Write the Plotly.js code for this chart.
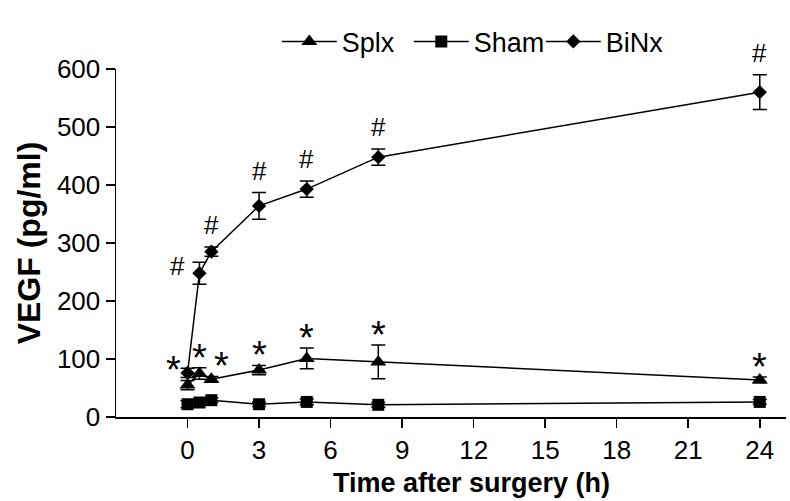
<!DOCTYPE html>
<html>
<head>
<meta charset="utf-8">
<script src="https://cdn.plot.ly/plotly-3.0.1.min.js"></script>
<style>html,body{margin:0;padding:0;background:#fff;}#chart{width:790px;height:501px;}</style>
</head>
<body>
<div id="chart"></div>
<script>
// ---- data ----
var timeH = [0, 0.5, 1, 3, 5, 8, 24];
var splxVEGF = [55, 75, 65, 81, 101, 95, 64];
var splxErr  = [8, 10, 5, 8, 18, 29, 5];
var splxSig  = ['*', '*', '*', '*', '*', '*', '*'];
var shamVEGF = [22, 25, 29, 22, 26, 21, 26];
var shamErr  = [6, 5, 4, 4, 5, 4, 4];
var binxVEGF = [76, 248, 285, 364, 393, 448, 560];
var binxErr  = [8, 19, 8, 23, 14, 14, 30];
var binxSig  = ['', '#', '#', '#', '#', '#', '#'];
var xTicks = [0, 3, 6, 9, 12, 15, 18, 21, 24];
var yTicks = [0, 100, 200, 300, 400, 500, 600];
var seriesNames = ['Splx', 'Sham', 'BiNx'];
var xTitle = 'Time after surgery (h)';
var yTitle = 'VEGF (pg/ml)';

var FONT = 'Liberation Sans, Arial, Helvetica, sans-serif';

function trace(name, y, err, symbol, size) {
  return {
    type: 'scatter', mode: 'lines+markers', name: name,
    x: timeH, y: y,
    line: {color: '#000', width: 1.5},
    marker: {symbol: symbol, size: size, color: '#000'},
    error_y: {type: 'data', array: err, visible: true, color: '#000', thickness: 1.5, width: 7},
    cliponaxis: false
  };
}

var data = [
  trace(seriesNames[0], splxVEGF, splxErr, 'triangle-up', 14),
  trace(seriesNames[1], shamVEGF, shamErr, 'square', 12),
  trace(seriesNames[2], binxVEGF, binxErr, 'diamond', 11)
];

// significance marks above the upper error bar
var annotations = [];
var splxShift = {0: -14, 2: 10};
var binxShift = {1: -22};
function addSig(sig, vals, errs, shifts, sizeUp, fsize) {
  for (var i = 0; i < sig.length; i++) {
    if (!sig[i]) continue;
    var xs = shifts[i] || 0;
    annotations.push({
      x: timeH[i], y: vals[i] + errs[i], xref: 'x', yref: 'y',
      text: sig[i], showarrow: false,
      xanchor: 'center', yanchor: 'middle',
      xshift: xs, yshift: xs < 0 && sig[i] === '#' ? -4 : sizeUp,
      font: {family: FONT, size: fsize, color: '#000'}
    });
  }
}
addSig(binxSig, binxVEGF, binxErr, binxShift, 22, 26);
addSig(splxSig, splxVEGF, splxErr, splxShift, 10, 38);

// x-axis title (placed as in the reference, slightly right of centre)
annotations.push({
  xref: 'paper', yref: 'paper', x: 0.531, y: -0.19,
  xanchor: 'center', yanchor: 'middle', showarrow: false,
  text: xTitle,
  font: {family: FONT, size: 27, color: '#000', weight: 'bold'}
});

var layout = {
  width: 790, height: 501,
  margin: {l: 116, r: 4, t: 69, b: 84},
  paper_bgcolor: '#fff', plot_bgcolor: '#fff',
  font: {family: FONT, size: 26, color: '#000'},
  showlegend: true,
  legend: {
    orientation: 'h', x: 0.24, xanchor: 'left', y: 1.078, yanchor: 'middle',
    font: {family: FONT, size: 27, color: '#000'},
    itemwidth: 55, entrywidth: 62, bgcolor: 'rgba(0,0,0,0)'
  },
  xaxis: {
    range: [-3, 25.1], tickmode: 'array', tickvals: xTicks,
    ticks: 'outside', ticklen: 9, tickwidth: 1.5, tickcolor: '#000',
    showline: true, linecolor: '#000', linewidth: 1.5,
    showgrid: false, zeroline: false,
    tickfont: {family: FONT, size: 26, color: '#000'}
  },
  yaxis: {
    range: [0, 600], tickmode: 'array', tickvals: yTicks,
    ticks: 'outside', ticklen: 9, tickwidth: 1.5, tickcolor: '#000',
    showline: true, linecolor: '#000', linewidth: 1.5,
    showgrid: false, zeroline: false,
    tickfont: {family: FONT, size: 26, color: '#000'},
    title: {text: yTitle, font: {family: FONT, size: 32, color: '#000', weight: 'bold'}, standoff: 6}
  },
  annotations: annotations
};

Plotly.newPlot('chart', data, layout, {staticPlot: true, displayModeBar: false});
</script>
</body>
</html>
